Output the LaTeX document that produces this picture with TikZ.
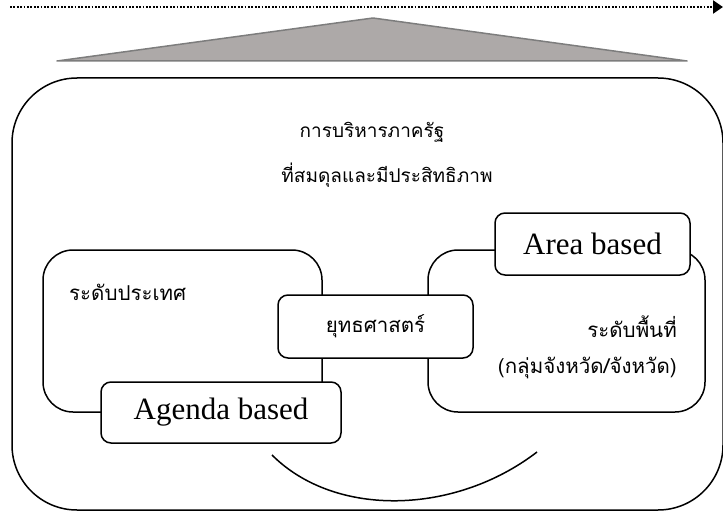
\documentclass[tikz,border=0pt]{standalone}
\usepackage{fontspec}
\setmainfont{Liberation Serif}
\newfontfamily\thaifont[Script=Thai]{Loma}
\usetikzlibrary{arrows.meta}
\definecolor{trifill}{RGB}{173,169,168}
\definecolor{triline}{RGB}{125,125,125}
\begin{document}
\begin{tikzpicture}[x=1pt,y=-1pt,
  bigbox/.style={draw, line width=1.5pt, rounded corners=65pt, inner sep=0pt},
  zonebox/.style={draw, line width=1.5pt, rounded corners=30pt, inner sep=0pt},
  tagbox/.style={draw, fill=white, line width=1.5pt, rounded corners=10pt, inner sep=0pt},
  thaitext/.style={inner sep=0pt, font=\thaifont\fontsize{20.5}{24}\selectfont},
  titletext/.style={inner sep=0pt, font=\thaifont\fontsize{19}{23}\selectfont},
  engtext/.style={inner sep=0pt, font=\fontsize{31}{36}\selectfont},
  dotline/.style={line width=2.2pt, dash pattern=on 1.8pt off 1.6pt}
]
\useasboundingbox (0,0) rectangle (723,511);
% dotted arrow
\coordinate (ds) at (10,7);
\coordinate (de) at (723,7);
\draw[dotline, -{Triangle[length=10pt,width=13pt]}] (ds) -- (de);
% triangle
\coordinate (tl) at (57,61);
\coordinate (tp) at (373,18);
\coordinate (tr) at (687,61);
\draw[fill=trifill, draw=triline, line width=1.5pt, line join=round] (tl) -- (tp) -- (tr) -- cycle;
% outer box
\node[bigbox, minimum width=711pt, minimum height=432pt] (outer) at (367.5,294) {};
% title
\node[titletext] (t1) at (372,132) {การบริหารภาครัฐ};
\node[titletext] (t2) at (387,175) {ที่สมดุลและมีประสิทธิภาพ};
% zone boxes
\node[zonebox, minimum width=279pt, minimum height=162pt] (left) at (182.5,331) {};
\node[zonebox, minimum width=277pt, minimum height=162pt] (right) at (566.5,331) {};
% tag boxes
\node[tagbox, minimum width=240pt, minimum height=61pt] (agenda) at (221,412.5) {};
\node[engtext] at (agenda) {Agenda based};
\node[tagbox, minimum width=195pt, minimum height=62pt] (area) at (592.5,244) {};
\node[engtext] at (area) {Area based};
\node[tagbox, minimum width=195pt, minimum height=63pt] (strat) at (375.5,326.5) {};
\node[thaitext] at (strat) {ยุทธศาสตร์};
% zone labels
\node[thaitext, anchor=west] (lc) at (69,292) {ระดับประเทศ};
\node[thaitext, anchor=east] (la) at (677,327) {ระดับพื้นที่};
\node[thaitext, anchor=east] (lb) at (677,368) {(กลุ่มจังหวัด/จังหวัด)};
% bottom arc
\coordinate (as) at (272,455);
\coordinate (ae) at (537,452);
\draw[line width=1.5pt] (as) .. controls (335,518) and (455,515) .. (ae);
\end{tikzpicture}
\end{document}
